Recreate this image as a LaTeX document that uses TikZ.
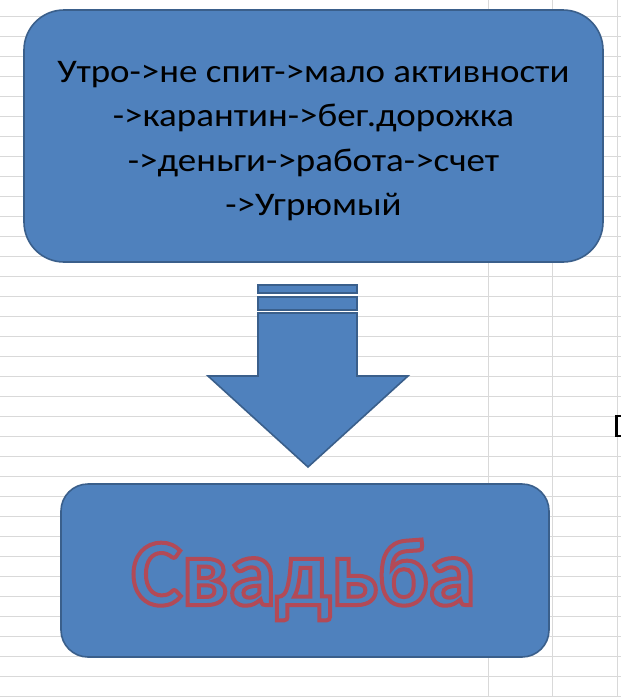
\documentclass[tikz,border=0pt]{standalone}
\usepackage{fontspec}
\setmainfont{Carlito}
\newfontfamily\widefont[FakeStretch=1.12]{Carlito}
\definecolor{boxblue}{HTML}{4F81BD}
\definecolor{boxline}{HTML}{3A5F8B}
\definecolor{gridgray}{HTML}{D9D9D9}
\tikzset{
  blockbox/.style={draw=boxline, fill=boxblue, line width=1.6pt},
  arrowpart/.style={draw=boxline, fill=boxblue, line width=1.6pt, line join=miter},
  gridline/.style={draw=gridgray, line width=1pt},
}
\newcommand{\outlinetext}[1]{\special{pdf:literal direct 2 Tr 4 w 0.70 0.29 0.34 RG}#1\special{pdf:literal direct 0 Tr 1 w}}
\begin{document}
\begin{tikzpicture}[x=1pt,y=-1pt]
\useasboundingbox (0,0) rectangle (621,697);
\fill[white] (0,0) rectangle (621,697);
\foreach \y in {16,36,...,696} \draw[gridline] (0,\y) -- (621,\y);
\foreach \x in {488,552,617} \draw[gridline] (\x,0) -- (\x,697);
% top box
\node[blockbox, rounded corners=40pt, minimum width=579pt, minimum height=252pt] (top) at (313.5,136) {};
\node[align=center, font=\widefont\fontsize{33}{44.5}\selectfont] (toptext) at ([yshift=-5pt]top.center)
  {Утро->не спит->мало активности\\->карантин->бег.дорожка\\->деньги->работа->счет\\->Угрюмый};
% block arrow
\draw[arrowpart] (258,285) rectangle (357,293);
\draw[arrowpart] (258,297) rectangle (357,310);
\draw[arrowpart] (258,313) -- (357,313) -- (357,376) -- (408,376) -- (308,467)
  -- (208,376) -- (258,376) -- cycle;
% bottom box
\node[blockbox, rounded corners=27pt, minimum width=488pt, minimum height=173pt] (bot) at (305,570.5) {};
\node[anchor=base, text=boxblue, font=\fontsize{95}{95}\bfseries\selectfont] (word) at (303.5,605) {\outlinetext{Свадьба}};
% selection mark at right edge
\draw[black, line width=2.2pt] (616.5,416) rectangle (628,436);
\end{tikzpicture}
\end{document}
